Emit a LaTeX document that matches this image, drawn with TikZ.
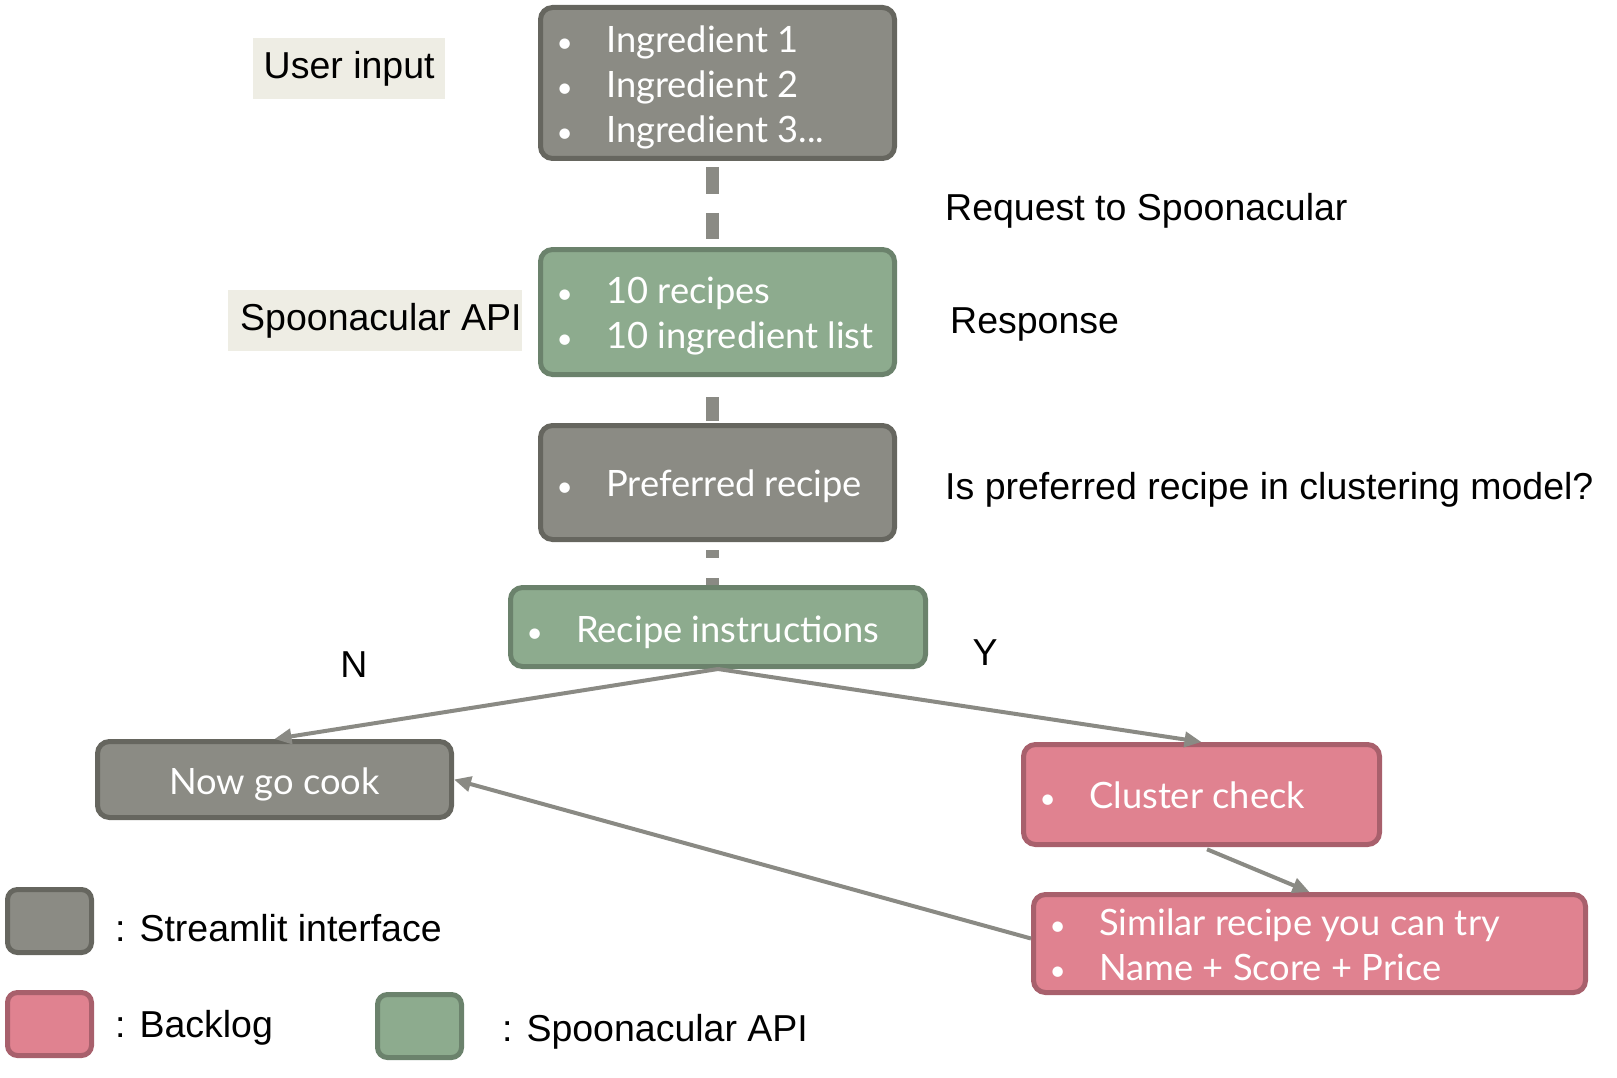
\documentclass[tikz,border=0pt]{standalone}
\usepackage{fontspec}
\setmainfont{Liberation Sans}
\newfontfamily\boxfont{Lato}
\usetikzlibrary{arrows.meta}
\definecolor{grayfill}{HTML}{8B8B84}
\definecolor{grayline}{HTML}{66665F}
\definecolor{greenfill}{HTML}{8DAB8E}
\definecolor{greenline}{HTML}{6B826C}
\definecolor{pinkfill}{HTML}{E08290}
\definecolor{pinkline}{HTML}{A8606C}
\definecolor{labelbg}{HTML}{EEEDE4}
\definecolor{conn}{HTML}{8A8A84}
\newcommand{\bul}{\makebox[49.5pt][l]{\fontsize{28}{28}\selectfont•}}
\begin{document}
\begin{tikzpicture}[x=1pt,y=-1pt,
  box/.style={line width=5pt, rounded corners=12pt, anchor=north west, inner sep=0pt},
  btext/.style={inner sep=0pt, anchor=west, align=left, text=white, font=\boxfont\fontsize{36.3}{45}\selectfont},
  graybox/.style={box, draw=grayline, fill=grayfill},
  greenbox/.style={box, draw=greenline, fill=greenfill},
  pinkbox/.style={box, draw=pinkline, fill=pinkfill},
  lbl/.style={font=\fontsize{37.5}{45}\selectfont, anchor=west, inner sep=0pt},
  tag/.style={fill=labelbg, font=\fontsize{37.5}{45}\selectfont, anchor=north west, inner sep=0pt},
  dashconn/.style={draw=conn, line width=13pt},
  arr/.style={draw=conn, line width=4pt, -{Triangle[length=17pt,width=15pt]}},
  key/.style={line width=5pt, rounded corners=10pt, anchor=north west, minimum width=84pt, minimum height=63pt, inner sep=0pt}
]
\useasboundingbox (0,0) rectangle (1617,1078);

% boxes
\node[graybox, minimum width=354pt, minimum height=151pt] (top) at (538,5) {};
\node[greenbox, minimum width=354pt, minimum height=125pt] (api) at (538,247) {};
\node[graybox, minimum width=354pt, minimum height=114pt] (pref) at (538,423) {};
\node[greenbox, minimum width=415pt, minimum height=79pt] (rec) at (508,585) {};
\node[graybox, minimum width=354pt, minimum height=76pt] (cook) at (95,739) {};
\node[pinkbox, minimum width=356pt, minimum height=100pt] (cluster) at (1021,742) {};
\node[pinkbox, minimum width=552pt, minimum height=98pt] (similar) at (1031,892) {};

% box texts
\node[btext] (top-t) at ([xshift=18.5pt, yshift=-4.5pt]top.west)
  {\bul Ingredient 1\\ \bul Ingredient 2\\ \bul Ingredient 3...};
\node[btext] (api-t) at ([xshift=18.5pt, yshift=-4pt]api.west)
  {\bul 10 recipes\\ \bul 10 ingredient list};
\node[btext] (pref-t) at ([xshift=18.5pt, yshift=-4pt]pref.west) {\bul Preferred recipe};
\node[btext] (rec-t) at ([xshift=18.5pt, yshift=-5pt]rec.west) {\bul Recipe instructions};
\node[btext, anchor=center] (cook-t) at ([yshift=-5pt]cook.center) {Now go cook};
\node[btext] (cluster-t) at ([xshift=18.5pt, yshift=-1pt]cluster.west) {\bul Cluster check};
\node[btext] (similar-t) at ([xshift=18.5pt, yshift=-1pt]similar.west)
  {\bul Similar recipe you can try\\ \bul Name + Score + Price};

% side labels
\node[tag, minimum width=192pt, minimum height=61pt] (tuser) at (253,38) {User input};
\node[tag, minimum width=291pt, minimum height=61pt] (tapi) at (228,290) {\hspace{12pt}Spoonacular API};
\node[lbl] (lreq) at (945,211) {Request to Spoonacular};
\node[lbl] (lresp) at (950,324) {Response};
\node[lbl] (lis) at (945,490) {Is preferred recipe in clustering model?};
\node[lbl, anchor=center] (ln) at (354,665) {N};
\node[lbl, anchor=center] (ly) at (985,653) {Y};

% dashed connectors
\draw[dashconn, dash pattern=on 0pt off 6pt on 27pt off 19pt on 26pt off 200pt]
  ([xshift=-5pt]top.south) -- ([xshift=-5pt]top.south |- api.north);
\draw[dashconn, dash pattern=on 0pt off 20pt on 24pt off 200pt]
  ([xshift=-5pt]api.south) -- ([xshift=-5pt]api.south |- pref.north);
\draw[dashconn, dash pattern=on 0pt off 8pt on 8pt off 20pt on 11pt off 200pt]
  ([xshift=-5pt]pref.south) -- ([xshift=-5pt]pref.south |- rec.north);

% arrows
\draw[arr] (rec.south) -- (cook.north);
\draw[arr] (rec.south) -- (cluster.north);
\draw[arr, shorten <=6pt] (cluster.south) -- (similar.north);
\draw[arr] ([yshift=5pt]similar.west) -- (cook.east);

% legend
\node[key, draw=grayline, fill=grayfill] (kgray) at (5,887) {};
\node[key, draw=pinkline, fill=pinkfill] (kpink) at (5,990) {};
\node[key, draw=greenline, fill=greenfill] (kgreen) at (375,992) {};
\node[lbl] (lgray) at (115,928) {: Streamlit interface};
\node[lbl] (lpink) at (115,1028) {: Backlog};
\node[lbl] (lgreen) at (502,1032) {: Spoonacular API};
\end{tikzpicture}
\end{document}
